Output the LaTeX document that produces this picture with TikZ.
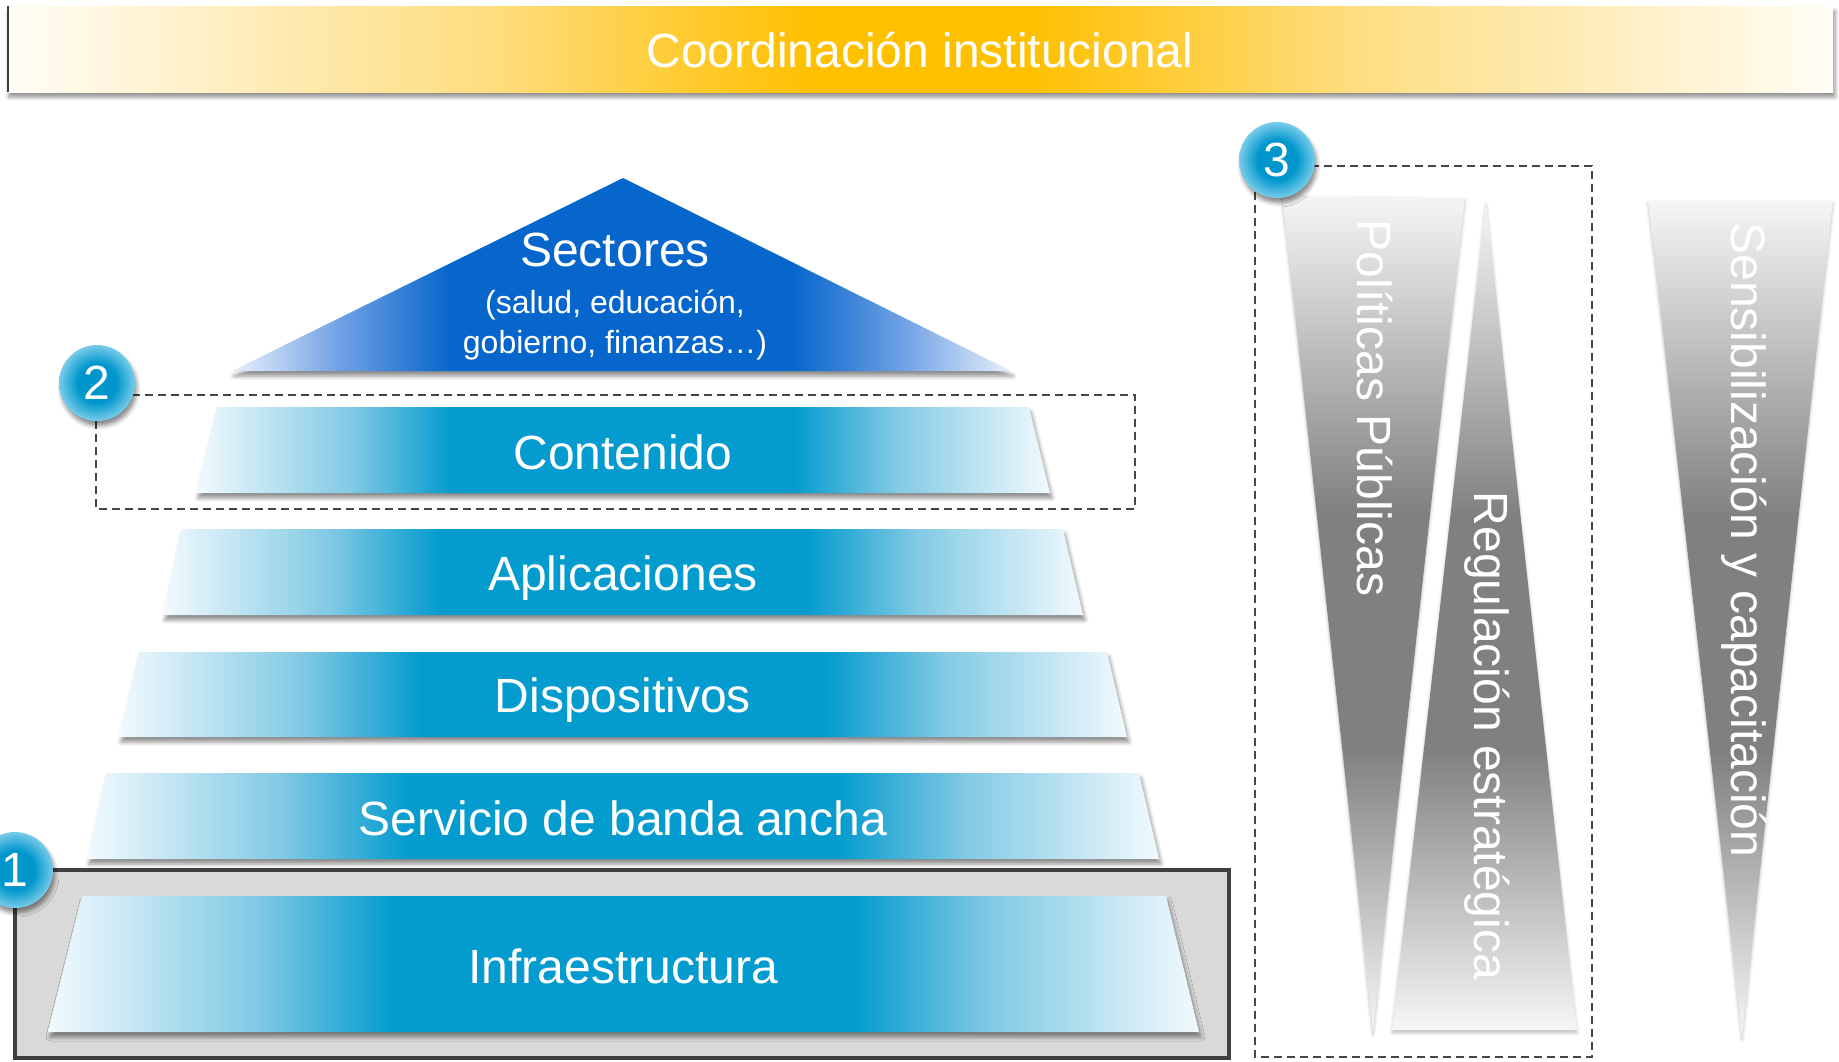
\documentclass[tikz,border=0pt]{standalone}
\usepackage{fontspec}
\setmainfont{Liberation Sans}
\usetikzlibrary{shadows.blur}
\definecolor{barlight}{RGB}{242,250,253}
\definecolor{barmid}{RGB}{130,202,228}
\definecolor{bardark}{RGB}{4,155,206}
\definecolor{seclight}{RGB}{232,240,251}
\definecolor{secmid}{RGB}{110,160,228}
\definecolor{secdark}{RGB}{6,102,204}
\definecolor{banwhite}{RGB}{255,253,246}
\definecolor{banyellow}{RGB}{255,192,0}
\definecolor{banmid}{RGB}{254,222,130}
\definecolor{vlight}{RGB}{246,246,246}
\definecolor{vdark}{RGB}{128,128,128}
\definecolor{boxgray}{RGB}{217,217,217}
\definecolor{boxline}{RGB}{64,64,64}
\definecolor{dashcol}{RGB}{70,70,70}
\definecolor{badgein}{RGB}{0,150,204}
\definecolor{badgeout}{RGB}{120,204,234}
\pgfdeclarehorizontalshading{barshade}{100bp}{color(0bp)=(barlight); color(25bp)=(barlight); color(34bp)=(barmid); color(40bp)=(bardark); color(60bp)=(bardark); color(66bp)=(barmid); color(75bp)=(barlight); color(100bp)=(barlight)}
\pgfdeclarehorizontalshading{secshade}{100bp}{color(0bp)=(seclight); color(25bp)=(seclight); color(32bp)=(secmid); color(39bp)=(secdark); color(61bp)=(secdark); color(68bp)=(secmid); color(75bp)=(seclight); color(100bp)=(seclight)}
\pgfdeclarehorizontalshading{banshade}{100bp}{color(0bp)=(banwhite); color(25bp)=(banwhite); color(38bp)=(banmid); color(47bp)=(banyellow); color(53bp)=(banyellow); color(62bp)=(banmid); color(75bp)=(banwhite); color(100bp)=(banwhite)}
\pgfdeclareverticalshading{vshade}{100bp}{color(0bp)=(vlight); color(25bp)=(vlight); color(42bp)=(vdark); color(56bp)=(vdark); color(75bp)=(vlight); color(100bp)=(vlight)}
\pgfdeclareradialshading{badgeshade}{\pgfpointorigin}{color(0bp)=(badgein); color(13bp)=(badgein); color(25bp)=(badgeout); color(50bp)=(badgeout)}
\begin{document}
\begin{tikzpicture}[x=1pt,y=-1pt,
  big/.style={text=white,font=\fontsize{48}{56}\selectfont,inner sep=0pt},
  small/.style={text=white,font=\fontsize{32}{38}\selectfont,inner sep=0pt},
  barfill/.style={shade,shading=barshade,blur shadow={shadow xshift=2pt,shadow yshift=-5pt,shadow blur radius=4pt,shadow opacity=45}},
  secfill/.style={shade,shading=secshade,blur shadow={shadow xshift=2pt,shadow yshift=-5pt,shadow blur radius=4pt,shadow opacity=45}},
  vfill/.style={shade,shading=vshade,blur shadow={shadow xshift=0pt,shadow yshift=-3pt,shadow blur radius=3pt,shadow opacity=25}},
  dbox/.style={draw=dashcol,line width=2pt,dash pattern=on 8pt off 5pt},
  badge/.style={circle,minimum size=76pt,inner sep=0pt,shade,shading=badgeshade,text=white,font=\fontsize{48}{56}\selectfont,blur shadow={shadow xshift=2pt,shadow yshift=-5pt,shadow blur radius=4pt,shadow opacity=45}}]
\useasboundingbox (0,0) rectangle (1839,1061);
% banner
\path[shade,shading=banshade,blur shadow={shadow xshift=2pt,shadow yshift=-5pt,shadow blur radius=4pt,shadow opacity=45}] (7,6) rectangle (1833,92);
\draw[line width=2.5pt,draw=boxline] (8,6) -- (8,92);
\node[big] (ban) at (920,50) {Coordinación institucional};
% gray box 1
\draw[line width=4pt,draw=boxline,fill=boxgray] (15,870) rectangle (1229,1058);
% dashed boxes
\draw[dbox] (96,395) rectangle (1135,509);
\draw[dbox,line width=1.6pt] (1255,166) rectangle (1592,1057);
% pyramid
\path[secfill] (623,178) -- (1011,371) -- (232,371) -- cycle;
\path[barfill] (217,407) -- (1029,407) -- (1050,493) -- (196,493) -- cycle;
\path[barfill] (181,529) -- (1063,529) -- (1083,615) -- (163,615) -- cycle;
\path[barfill] (139,652) -- (1107,652) -- (1127,737) -- (119,737) -- cycle;
\path[barfill] (106,773) -- (1139,773) -- (1159,859) -- (87,859) -- cycle;
\path[barfill] (82,896) -- (1166,896) -- (1199,1032) -- (48,1032) -- cycle;
\node[big] (sec) at (615,250) {Sectores};
\node[small] (sec1) at (615,305) {(salud, educación,};
\node[small] (sec2) at (615,345) {gobierno, finanzas…)};
\node[big] (cont) at (623,452) {Contenido};
\node[big] (apl) at (623,578) {Aplicaciones};
\node[big] (dis) at (623,700) {Dispositivos};
\node[big] (ser) at (623,818) {Servicio de banda ancha};
\node[big] (inf) at (623,966) {Infraestructura};
% right triangles
\path[vfill] (1282,195) -- (1465,197) -- (1373,1032) -- cycle;
\path[vfill] (1486,202) -- (1577,1030) -- (1392,1030) -- cycle;
\path[vfill] (1648,200) -- (1833,200) -- (1742,1037) -- cycle;
\node[big,rotate=-90] (pol) at (1375,408) {Políticas Públicas};
\node[big,rotate=-90] (reg) at (1487,736) {Regulación estratégica};
\node[big,rotate=-90] (sen) at (1744,540) {Sensibilización y capacitación};
% badges
\node[badge] (b1) at (15,870) {1};
\node[badge] (b2) at (97,383) {2};
\node[badge] (b3) at (1277,160) {3};
\end{tikzpicture}
\end{document}
